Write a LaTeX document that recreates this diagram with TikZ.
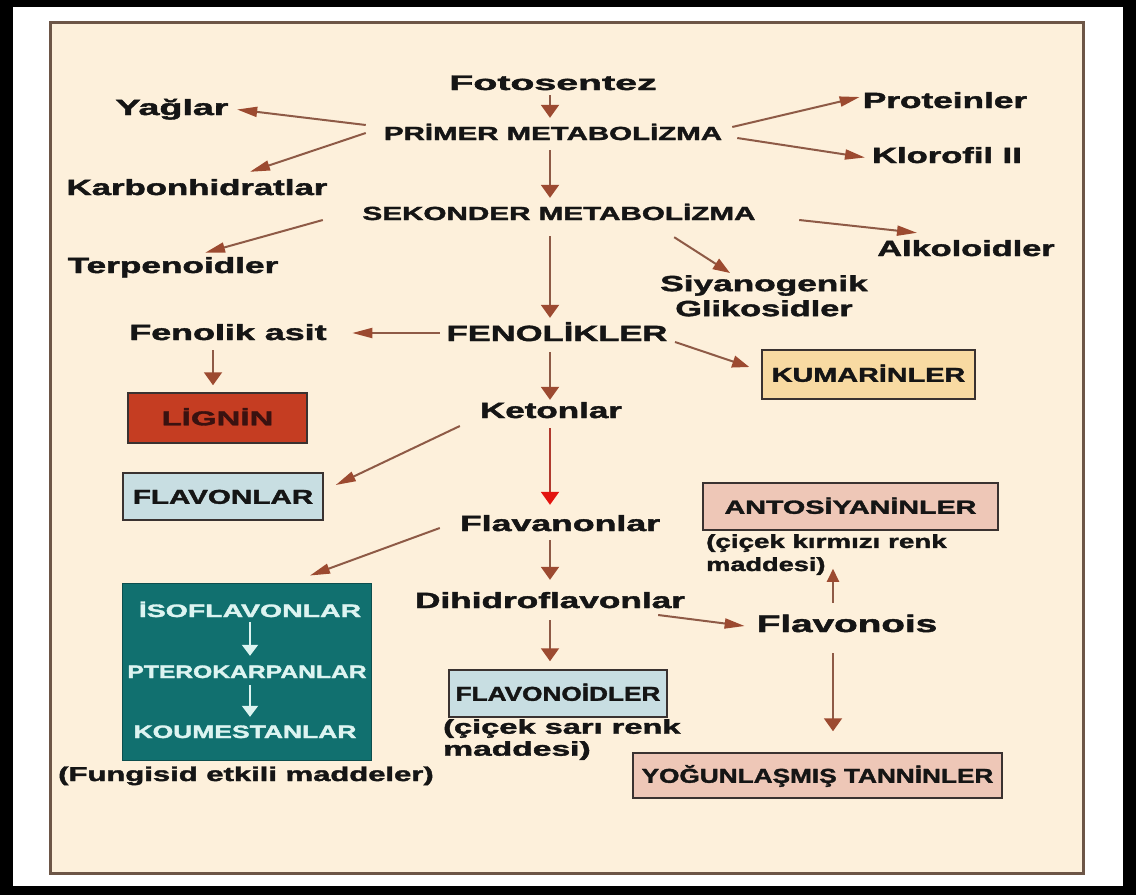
\documentclass[tikz,border=0pt]{standalone}
\usepackage{fontspec}
\setmainfont{Liberation Sans}[BoldFeatures={FakeBold=1.6}]
\usepackage{graphicx}
\usetikzlibrary{arrows.meta,calc}
\definecolor{panelfill}{HTML}{FDF0DB}
\definecolor{panelline}{HTML}{6D5647}
\definecolor{arrline}{HTML}{8E5A46}
\definecolor{arrtip}{HTML}{9C4A30}
\definecolor{redline}{HTML}{B03A2E}
\definecolor{redtip}{HTML}{E3140F}
\definecolor{txt}{HTML}{151515}
\definecolor{ligfill}{HTML}{C53D22}
\definecolor{ligtxt}{HTML}{3A1210}
\definecolor{bluefill}{HTML}{C8DEE2}
\definecolor{kumfill}{HTML}{F8DAA2}
\definecolor{pinkfill}{HTML}{EEC7B7}
\definecolor{tealfill}{HTML}{11706F}
\definecolor{tealtxt}{HTML}{DDF4F1}
\definecolor{boxline}{HTML}{3A3230}
\newcommand\sx[2]{\scalebox{#1}[1]{#2}}
\begin{document}
\begin{tikzpicture}[x=1pt,y=-1pt,
  lbl/.style={inner sep=0pt, anchor=base, text=txt, font=\bfseries\fontsize{22}{26}\selectfont, text height=16pt, text depth=5pt},
  caplbl/.style={lbl, font=\bfseries\fontsize{19}{22}\selectfont, text height=14pt, text depth=4pt},
  ml/.style={inner sep=0pt, text=txt, align=left},
  boxn/.style={draw=boxline, line width=1.5pt, inner sep=0pt, text=txt, font=\bfseries\fontsize{20}{22}\selectfont, text height=14.5pt, text depth=0pt},
  tl/.style={inner sep=0pt, anchor=base, text=tealtxt, font=\bfseries\fontsize{18}{20}\selectfont, text height=13pt, text depth=0pt},
  arr/.style={draw=arrline, line width=2pt},
  varr/.style={-{Triangle[length=13pt,width=18pt,color=arrtip]}},
  narr/.style={-{Triangle[length=13pt,width=12pt,color=arrtip]}},
  harr/.style={-{Triangle[length=20pt,width=10pt,color=arrtip]}},
  darr/.style={-{Triangle[length=17pt,width=12pt,color=arrtip]}},
  redarr/.style={draw=redline, line width=2pt, -{Triangle[length=13pt,width=18pt,color=redtip]}},
  tarr/.style={draw=tealtxt, line width=2pt, -{Triangle[length=11pt,width=16pt,color=tealtxt]}}
]
\useasboundingbox (0,0) rectangle (1136,895);
\fill[black] (0,0) rectangle (1136,895);
\fill[white] (13,7) rectangle (1123,886);
\draw[draw=panelline, fill=panelfill, line width=3pt] (50,22) rectangle (1083,873);

\coordinate (ax) at (550,0);
\coordinate (tax) at (250,0);

% labels
\node[lbl, font=\bfseries\fontsize{21}{24}\selectfont] (fot) at (553,90) {\sx{1.87}{Fotosentez}};
\node[caplbl] (prim) at (553,140) {\sx{1.55}{PRİMER METABOLİZMA}};
\node[caplbl] (sek) at (559,220) {\sx{1.56}{SEKONDER METABOLİZMA}};
\node[lbl] (yag) at (172,115) {\sx{1.71}{Yağlar}};
\node[lbl] (karb) at (197,195) {\sx{1.58}{Karbonhidratlar}};
\node[lbl] (terp) at (173,273) {\sx{1.6}{Terpenoidler}};
\node[lbl] (prot) at (945,108) {\sx{1.6}{Proteinler}};
\node[lbl] (klor) at (947,163) {\sx{1.57}{Klorofil II}};
\node[lbl] (alk) at (966,256) {\sx{1.56}{Alkoloidler}};
\node[ml, anchor=north, align=center, font=\bfseries\fontsize{22}{25}\selectfont] (siy) at (764,275) {\sx{1.6}{Siyanogenik}\\\sx{1.56}{Glikosidler}};
\node[lbl] (fasit) at (228,340) {\sx{1.63}{Fenolik asit}};
\node[lbl] (fenol) at (557,341) {\sx{1.57}{FENOLİKLER}};
\node[lbl] (keton) at (551,418) {\sx{1.59}{Ketonlar}};
\node[lbl] (flavan) at (560,531) {\sx{1.62}{Flavanonlar}};
\node[lbl] (dihid) at (550,608) {\sx{1.6}{Dihidroflavonlar}};
\node[lbl, font=\bfseries\fontsize{24}{28}\selectfont, text height=17.5pt, text depth=5.5pt] (flvs) at (847,632) {\sx{1.61}{Flavonois}};

% boxes
\node[boxn, fill=ligfill, text=ligtxt, minimum width=179pt, minimum height=50pt] (lig) at (217.5,418) {\sx{1.65}{LİGNİN}};
\node[boxn, fill=bluefill, minimum width=200pt, minimum height=47pt] (fla) at (223,496.5) {\sx{1.48}{FLAVONLAR}};
\node[boxn, fill=kumfill, minimum width=213pt, minimum height=49pt] (kum) at (868.5,374.5) {\sx{1.44}{KUMARİNLER}};
\node[boxn, fill=pinkfill, font=\bfseries\fontsize{19}{22}\selectfont, minimum width=295pt, minimum height=47pt] (ant) at (850.5,506.5) {\sx{1.51}{ANTOSİYANİNLER}};
\node[boxn, fill=bluefill, minimum width=218pt, minimum height=47pt] (fld) at (558,693.5) {\sx{1.31}{FLAVONOİDLER}};
\node[boxn, fill=pinkfill, minimum width=369pt, minimum height=45pt] (yog) at (817.5,775.5) {\sx{1.31}{YOĞUNLAŞMIŞ TANNİNLER}};
\node[draw=tealfill!70!black, line width=1pt, fill=tealfill, inner sep=0pt, minimum width=249pt, minimum height=177pt] (teal) at (246.5,671.5) {};
\node[tl] (iso) at (250,617) {\sx{1.58}{İSOFLAVONLAR}};
\node[tl] (ptero) at (247,678) {\sx{1.37}{PTEROKARPANLAR}};
\node[tl] (koum) at (245,738) {\sx{1.47}{KOUMESTANLAR}};

% captions
\node[lbl, font=\bfseries\fontsize{20}{22}\selectfont] (fungi) at (246,781) {\sx{1.55}{(Fungisid etkili maddeler)}};
\node[ml, anchor=north west, font=\bfseries\fontsize{19}{23}\selectfont] (kcap) at (706,534) {\sx{1.46}{(çiçek kırmızı renk}\\\sx{1.43}{maddesi)}};
\node[ml, anchor=north west, font=\bfseries\fontsize{20}{22}\selectfont] (scap) at (443,719) {\sx{1.63}{(çiçek sarı renk}\\\sx{1.68}{maddesi)}};

% vertical main chain
\draw[arr, varr, shorten >=8pt] (fot.south -| ax) -- (prim.north -| ax);
\draw[arr, varr, shorten <=6pt, shorten >=8pt] (prim.south -| ax) -- (sek.north -| ax);
\draw[arr, varr, shorten <=12pt, shorten >=7pt] (sek.south -| ax) -- (fenol.north -| ax);
\draw[arr, varr, shorten <=6pt, shorten >=2pt] (fenol.south -| ax) -- (keton.north -| ax);
\draw[redarr, shorten <=5pt, shorten >=10pt] (keton.south -| ax) -- (flavan.north -| ax);
\draw[arr, varr, shorten <=4pt, shorten >=12pt] (flavan.south -| ax) -- (dihid.north -| ax);
\draw[arr, varr, shorten <=7pt, shorten >=8pt] (dihid.south -| ax) -- (fld.north -| ax);

% primary branches
\draw[arr, harr] ([xshift=-18pt,yshift=10pt]prim.west) -- ([xshift=8.5pt]yag.east);
\draw[arr, harr] ([xshift=-18pt,yshift=2pt]prim.west) -- ([xshift=53pt,yshift=7pt]karb.north);
\draw[arr, harr] ([xshift=10pt,yshift=8pt]prim.east) -- ([xshift=-3pt,yshift=5.5pt]prot.west);
\draw[arr, harr] ([xshift=15pt,yshift=-3pt]prim.east) -- ([xshift=-7pt]klor.west);

% secondary branches
\draw[arr, harr] ([xshift=-39.5pt,yshift=-5pt]sek.west) -- ([xshift=32pt,yshift=4pt]terp.north);
\draw[arr, darr] ([xshift=-81.5pt,yshift=-13pt]sek.south east) -- ([xshift=-34pt,yshift=2pt]siy.north);
\draw[arr, harr] ([xshift=43.5pt,yshift=-5pt]sek.east) -- ([xshift=-49pt,yshift=7pt]alk.north);

% phenolics
\draw[arr, harr] ([xshift=-6.5pt,yshift=2.5pt]fenol.west) -- ([xshift=25.5pt,yshift=1.5pt]fasit.east);
\draw[arr, darr] ([xshift=7.5pt,yshift=-6.5pt]fenol.east) -- ([xshift=-12pt,yshift=7.5pt]kum.west);
\draw[arr, varr] ([xshift=-15pt,yshift=-5pt]fasit.south) -- ([xshift=-4.5pt,yshift=7pt]lig.north);
\draw[arr, harr] ([xshift=-20pt,yshift=-13.5pt]keton.west) -- ([xshift=12pt,yshift=11.5pt]fla.east);
\draw[arr, harr] ([xshift=-20pt,yshift=-2.5pt]flavan.west) -- ([xshift=63.5pt,yshift=7pt]teal.north);
\draw[arr, harr] ([xshift=-27pt,yshift=-12.5pt]dihid.east) -- ([xshift=-12pt]flvs.west);
\draw[arr, narr] ([xshift=-14pt,yshift=11.5pt]flvs.north) -- ([xshift=-17.5pt,yshift=-38pt]ant.south);
\draw[arr, varr] ([xshift=-14pt,yshift=-15.5pt]flvs.south) -- ([xshift=15.5pt,yshift=21pt]yog.north);

% teal box arrows
\draw[tarr, shorten <=5pt, shorten >=9pt] (iso.south -| tax) -- (ptero.north -| tax);
\draw[tarr, shorten <=7pt, shorten >=8pt] (ptero.south -| tax) -- (koum.north -| tax);
\end{tikzpicture}
\end{document}
